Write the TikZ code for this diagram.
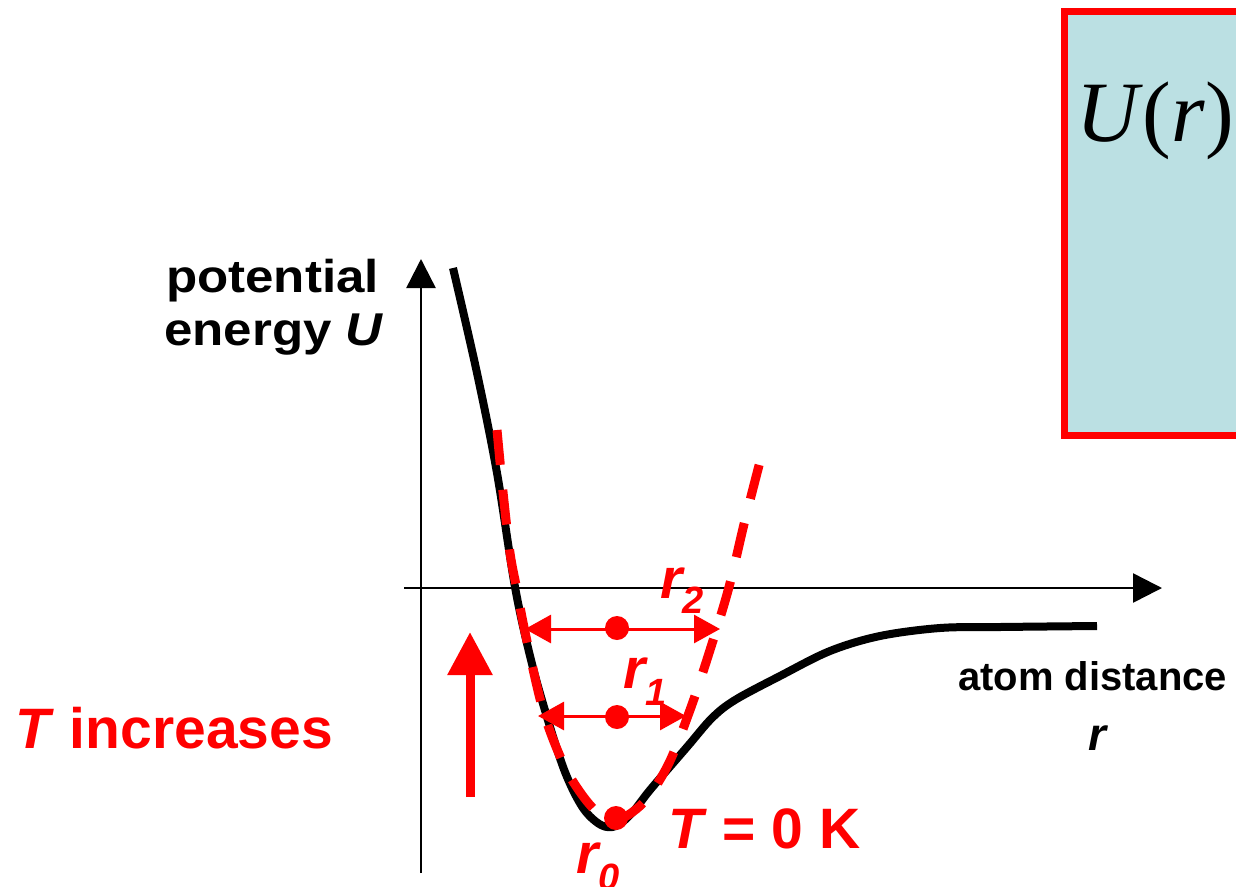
\documentclass[tikz,border=0pt]{standalone}
\usepackage{fontspec}
\setmainfont{Liberation Sans}
\newfontfamily\timesfont{Liberation Serif}
\usetikzlibrary{arrows.meta}
\definecolor{boxblue}{RGB}{187,224,227}
\newcommand\fsz[1]{\fontsize{#1}{#1}\selectfont}
\begin{document}
\begin{tikzpicture}[x=1pt,y=-1pt,
  axis/.style={line width=2.5pt, -{Triangle[length=29pt,width=29pt]}},
  curve/.style={line width=8pt, line join=round},
  harm/.style={red, line width=9pt, dash pattern=on 35pt off 25pt},
  span/.style={red, line width=3pt, {Triangle[length=26pt,width=28pt]}-{Triangle[length=26pt,width=28pt]}},
  dot/.style={circle, fill=red, inner sep=0pt, minimum size=24pt},
  redlbl/.style={inner sep=0pt, anchor=base west, text=red, font=\bfseries\fsz{57}},
  blklbl/.style={inner sep=0pt, anchor=base west, font=\bfseries\fsz{40}},
  rlbl/.style={inner sep=0pt, anchor=base west, text=red, font=\bfseries\itshape\fsz{57}},
  upred/.style={red, line width=9pt, -{Triangle[length=43pt,width=43pt]}}
]
\clip (0,0) rectangle (1236,886);
\fill[white] (0,0) rectangle (1236,886);

% box top right
\draw[red, line width=7pt, fill=boxblue] (1064,11) rectangle (1270,435);
\node[inner sep=0pt, anchor=base west, font=\timesfont\fsz{86}] (Ur) at (1076,141) {\textit{U}(\textit{r})};

% axes
\coordinate (yb) at (421,873);
\coordinate (yt) at (421,259);
\coordinate (xl) at (404,588);
\coordinate (xr) at (1162,588);
\draw[axis] (yb) -- (yt);
\draw[axis] (xl) -- (xr);

% potential curve
\draw[curve] plot[smooth, tension=0.55] coordinates {
 (453,268) (477,373) (497,473) (515,587) (531,660) (547,717) (565,772)
 (583,808) (601,825) (616,826) (632,813) (650,790) (687,747) (712,718)
 (735,700) (780,676) (830,651) (880,636) (940,628) (1000,627) (1097,626)};

% harmonic approximation
\draw[harm] plot[smooth, tension=0.55] coordinates {
 (497,430) (503,492) (510,553) (517,590) (525,632) (543,710) (563,763)
 (580,792) (597,812) (615,821) (643,803) (668,765) (690,710) (710,650)
 (729,587) (745,520) (763,450)};

% span arrows
\coordinate (r2L) at (525,629);
\coordinate (r2R) at (720,629);
\coordinate (r1L) at (538,716);
\coordinate (r1R) at (686,716);
\draw[span] (r2L) -- (r2R);
\draw[span] (r1L) -- (r1R);
\node[dot] (d2) at (617,628) {};
\node[dot] (d1) at (617,717) {};
\node[dot] (d0) at (616,818) {};

% labels
\node[rlbl] (lr2) at (660,598) {r\raisebox{-15pt}{\fsz{38}2}};
\node[rlbl] (lr1) at (623,688) {r\raisebox{-17pt}{\fsz{38}1}};
\node[rlbl] (lr0) at (576,873) {r\raisebox{-17pt}{\fsz{38}0}};
\node[redlbl] (t0) at (668,848) {\textit{T} = 0 K};
\node[redlbl] (tinc) at (15,748) {\textit{T} increases};

% T increases arrow
\coordinate (ab) at (470,797);
\coordinate (at) at (470,632);
\draw[upred] (ab) -- (at);

% axis labels
\node[blklbl, font=\bfseries\fsz{46}] (pot) at (166,292) {\scalebox{1.11}[1]{potential}};
\node[blklbl, font=\bfseries\fsz{46}] (ene) at (164,345) {\scalebox{1.11}[1]{energy \textit{U}}};
\node[blklbl] (atd) at (958,690) {atom distance};
\node[inner sep=0pt, anchor=base, font=\bfseries\itshape\fsz{46}] (rr) at (1097,750) {r};
\end{tikzpicture}
\end{document}
